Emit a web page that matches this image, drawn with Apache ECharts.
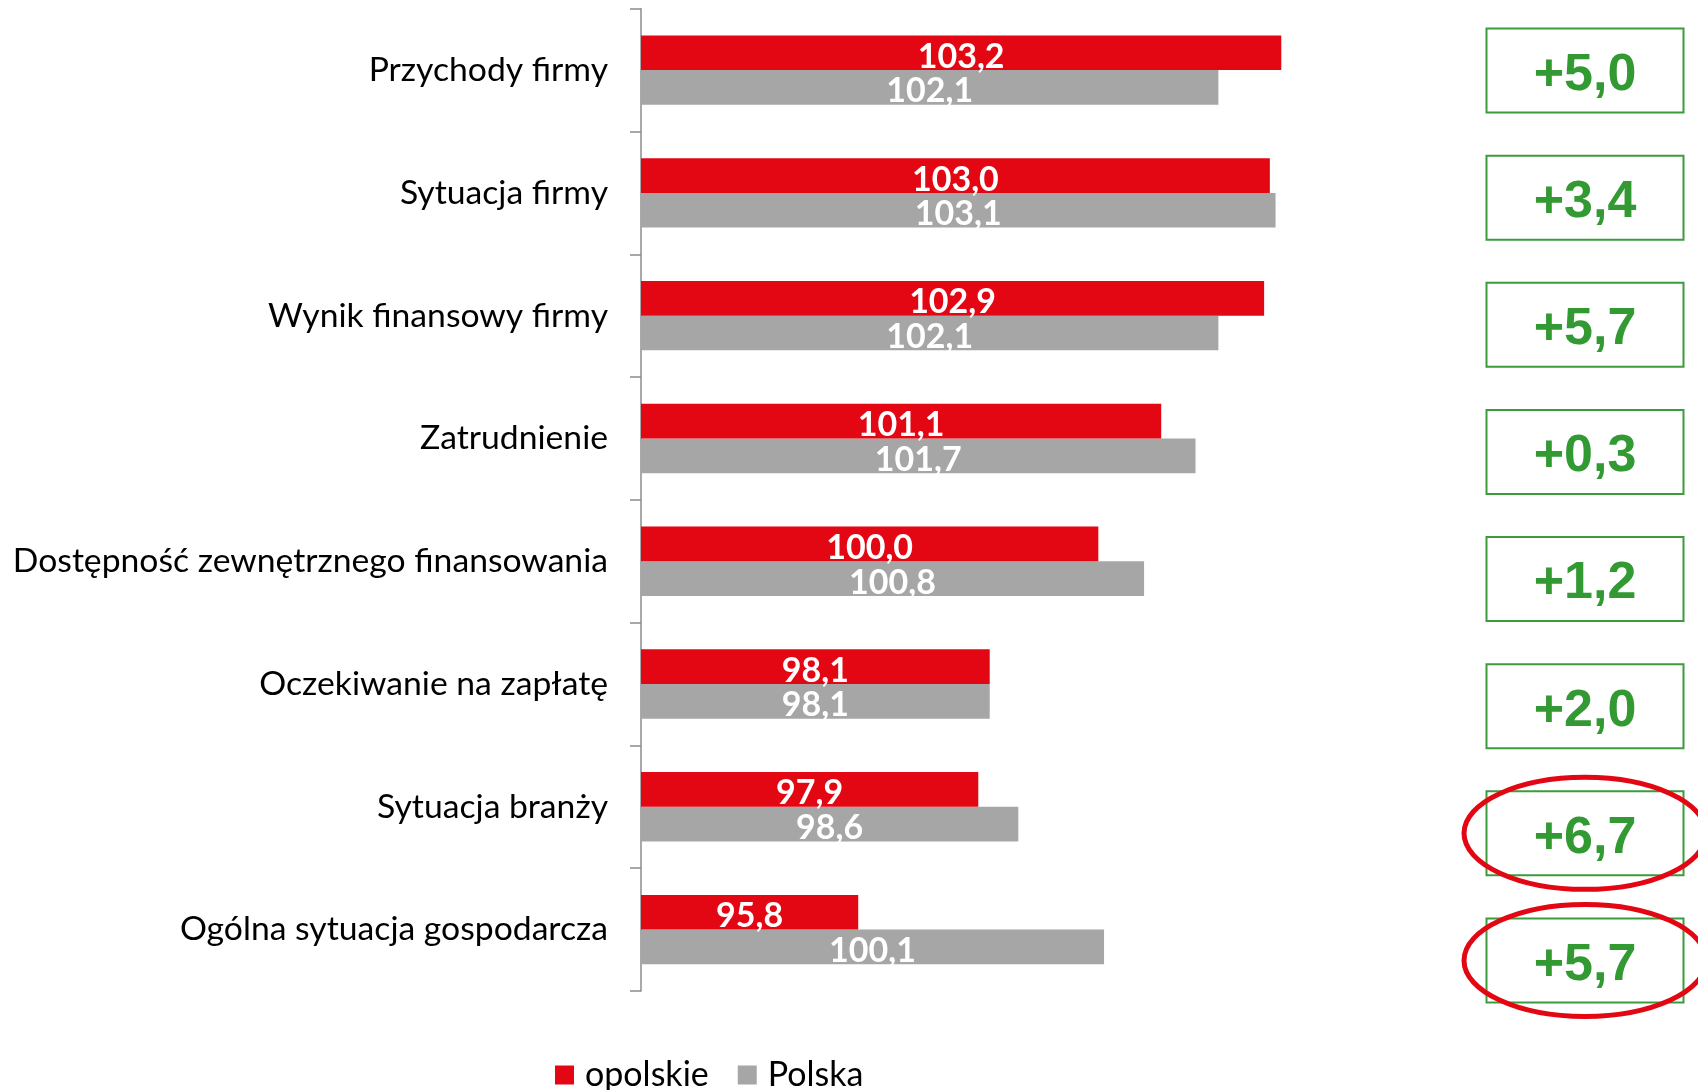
<!DOCTYPE html>
<html>
<head>
<meta charset="utf-8">
<script src="https://cdn.jsdelivr.net/npm/echarts@6/dist/echarts.min.js"></script>
<style>
html,body{margin:0;padding:0;background:#fff;}
#chart{width:1698px;height:1090px;}
</style>
</head>
<body>
<div id="chart"></div>
<script>
const categories = ['Przychody firmy','Sytuacja firmy','Wynik finansowy firmy','Zatrudnienie','Dostępność zewnętrznego finansowania','Oczekiwanie na zapłatę','Sytuacja branży','Ogólna sytuacja gospodarcza'];
const opolskie = [103.2, 103.0, 102.9, 101.1, 100.0, 98.1, 97.9, 95.8];
const polska = [102.1, 103.1, 102.1, 101.7, 100.8, 98.1, 98.6, 100.1];
const diffs = [5.0, 3.4, 5.7, 0.3, 1.2, 2.0, 6.7, 5.7];
const circled = ['Sytuacja branży','Ogólna sytuacja gospodarcza'];
const seriesNames = ['opolskie','Polska'];

const fmt = v => v.toFixed(1).replace('.', ',');
const fmtDiff = v => (v >= 0 ? '+' : '') + v.toFixed(1).replace('.', ',');

const boxData = categories.map((c, i) => [0.5, i, diffs[i], circled.indexOf(c) >= 0 ? 1 : 0]);

const chart = echarts.init(document.getElementById('chart'), null, {renderer:'canvas'});
const barLabel = {
  show: true, position: 'inside', color: '#fff', fontFamily: 'Lato', fontWeight: 'bold', fontSize: 34,
  offset: [0, 4], formatter: p => fmt(p.value)
};
chart.setOption({
  backgroundColor: '#fff',
  animation: false,
  legend: {
    data: seriesNames, left: 550, top: 1053, itemWidth: 19, itemHeight: 19, itemGap: 29, icon: 'rect',
    textStyle: {fontFamily: 'Lato', fontSize: 34, color: '#000', padding: [0,0,0,6]}
  },
  grid: [
    {left: 641, top: 8.7, width: 686, height: 982.3, containLabel: false},
    {left: 1486, top: 7, width: 198, height: 1017, containLabel: false}
  ],
  xAxis: [
    {type: 'value', gridIndex: 0, min: 92, max: 104, show: false, splitLine: {show: false}},
    {type: 'value', gridIndex: 1, min: 0, max: 1, show: false}
  ],
  yAxis: [
    {type: 'category', gridIndex: 0, data: categories, inverse: true,
      axisLine: {show: true, lineStyle: {color: '#8c8c8c', width: 1.5}},
      axisTick: {show: true, length: 11, lineStyle: {color: '#8c8c8c', width: 1.5}},
      axisLabel: {margin: 33, fontFamily: 'Lato', fontSize: 33.7, color: '#000'}
    },
    {type: 'category', gridIndex: 1, data: categories, inverse: true, show: false}
  ],
  series: [
    {name: seriesNames[0], type: 'bar', xAxisIndex: 0, yAxisIndex: 0, data: opolskie, barWidth: 34.7, barGap: '0%',
      z: 3, itemStyle: {color: '#E30613'}, label: barLabel},
    {name: seriesNames[1], type: 'bar', xAxisIndex: 0, yAxisIndex: 0, data: polska, barWidth: 34.7, barGap: '0%',
      z: 2, itemStyle: {color: '#A6A6A6'}, label: barLabel},
    {type: 'custom', xAxisIndex: 1, yAxisIndex: 1, data: boxData, silent: true,
      renderItem: function(params, api) {
        const p = api.coord([api.value(0), api.value(1)]);
        const children = [
          {type: 'rect', shape: {x: p[0]-98.5, y: p[1]-42, width: 197, height: 84},
            style: {fill: '#fff', stroke: '#3c9b3c', lineWidth: 2}},
          {type: 'text', x: p[0], y: p[1]+5, style: {text: fmtDiff(api.value(2)), fill: '#339933',
            font: 'bold 52px "Liberation Sans", Arial', align: 'center', verticalAlign: 'middle'}}
        ];
        if (api.value(3) === 1) {
          children.push({type: 'ellipse', shape: {cx: p[0], cy: p[1], rx: 121, ry: 56},
            style: {fill: 'none', stroke: '#E30613', lineWidth: 5}});
        }
        return {type: 'group', children: children};
      }
    }
  ]
});
</script>
</body>
</html>
